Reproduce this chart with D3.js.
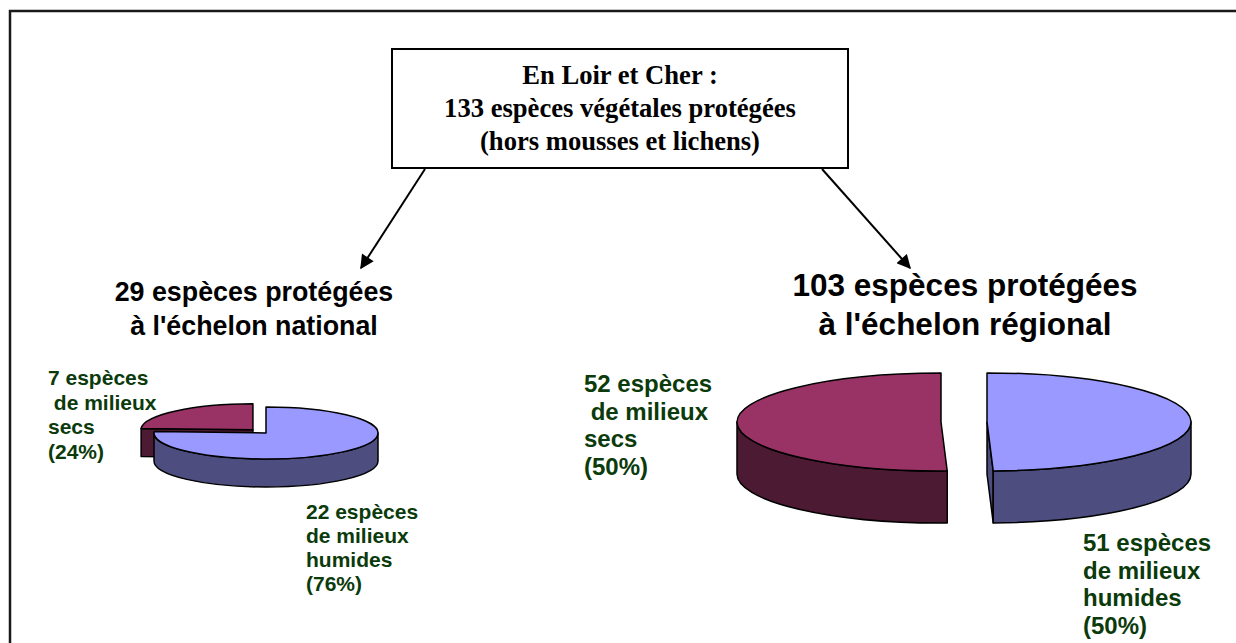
<!DOCTYPE html>
<html>
<head>
<meta charset="utf-8">
<script src="https://cdn.jsdelivr.net/npm/d3@7"></script>
<style>
  html, body { margin: 0; padding: 0; background: #fff; }
  svg { display: block; }
  text { white-space: pre; }
</style>
</head>
<body>
<svg id="chart" width="1236" height="643"></svg>
<script>
// ---------- DATA ----------
const categories = ["milieux humides", "milieux secs"];
const nationalValues = [22, 7];
const regionalValues = [51, 52];
const nationalPercents = ["76%", "24%"];
const regionalPercents = ["50%", "50%"];
const titleLines = ["En Loir et Cher :", "133 espèces végétales protégées", "(hors mousses et lichens)"];
const nationalHeading = ["29 espèces protégées", "à l'échelon national"];
const regionalHeading = ["103 espèces protégées", "à l'échelon régional"];
const nationalLabels = [
  ["22 espèces", "de milieux", "humides", "(76%)"],
  ["7 espèces", " de milieux", "secs", "(24%)"]
];
const regionalLabels = [
  ["51 espèces", "de milieux", "humides", "(50%)"],
  ["52 espèces", " de milieux", "secs", "(50%)"]
];

// ---------- STYLE ----------
const topColors = ["#9999FF", "#993366"];
const sideColors = ["#4D4D80", "#4D1A33"];
const labelColor = "#0B3A0B";

const svg = d3.select("#chart");

// outer frame
svg.append("path")
  .attr("d", "M10,650 L10,11 L1245,11")
  .attr("fill", "none").attr("stroke", "#1a1a1a").attr("stroke-width", 2.5);

// title box
svg.append("rect").attr("x", 392).attr("y", 49).attr("width", 456).attr("height", 119)
  .attr("fill", "#fff").attr("stroke", "#000").attr("stroke-width", 2);
svg.selectAll("text.title").data(titleLines).join("text")
  .attr("class", "title")
  .attr("x", 620).attr("y", (d, i) => 84 + i * 33)
  .attr("text-anchor", "middle")
  .attr("font-family", "'Liberation Serif', 'Times New Roman', serif")
  .attr("font-weight", "bold").attr("font-size", 26.6)
  .attr("fill", "#000").text(d => d);

// arrows
const defs = svg.append("defs");
defs.append("marker").attr("id", "arrow").attr("viewBox", "0 0 10 10")
  .attr("refX", 9).attr("refY", 5).attr("markerWidth", 7.5).attr("markerHeight", 7)
  .attr("markerUnits", "strokeWidth").attr("orient", "auto")
  .append("path").attr("d", "M0,0 L10,5 L0,10 Z").attr("fill", "#000");
const arrows = [[425, 169, 361, 268], [822, 169, 910, 268]];
svg.selectAll("line.arrow").data(arrows).join("line")
  .attr("class", "arrow")
  .attr("x1", d => d[0]).attr("y1", d => d[1]).attr("x2", d => d[2]).attr("y2", d => d[3])
  .attr("stroke", "#000").attr("stroke-width", 2).attr("marker-end", "url(#arrow)");

// headings
function heading(lines, cx, y0, dy, size) {
  svg.append("g").selectAll("text").data(lines).join("text")
    .attr("x", cx).attr("y", (d, i) => y0 + i * dy)
    .attr("text-anchor", "middle")
    .attr("font-family", "'Liberation Sans', Arial, sans-serif")
    .attr("font-weight", "bold").attr("font-size", size)
    .attr("fill", "#000").text(d => d);
}
heading(nationalHeading, 254, 301, 34, 26.8);
heading(regionalHeading, 965, 296, 39, 31.5);

// labels
function label(lines, x, y0, dy, size) {
  svg.append("g").selectAll("text").data(lines).join("text")
    .attr("x", x).attr("y", (d, i) => y0 + i * dy)
    .attr("font-family", "'Liberation Sans', Arial, sans-serif")
    .attr("font-weight", "bold").attr("font-size", size)
    .attr("fill", labelColor).text(d => d);
}
label(nationalLabels[1], 48, 385, 24.5, 21);
label(nationalLabels[0], 306, 519, 24, 21);
label(regionalLabels[1], 584, 392, 27.5, 24);
label(regionalLabels[0], 1083, 551, 27.5, 24);

// ---------- 3D PIE ----------
function pie3d(values, opts) {
  const arcs = d3.pie().sort(null).value(d => d).startAngle(0).endAngle(2 * Math.PI)(values);
  const g = svg.append("g");
  const { cx, cy, rx, ry, depth, explode } = opts;
  // draw back slices first (by bisector depth)
  const order = arcs.map((a, i) => i).sort((i, j) => {
    const bi = -Math.cos((arcs[i].startAngle + arcs[i].endAngle) / 2);
    const bj = -Math.cos((arcs[j].startAngle + arcs[j].endAngle) / 2);
    return bi - bj;
  });
  order.forEach(i => {
    const a = arcs[i];
    const a0 = a.startAngle, a1 = a.endAngle;
    const mid = (a0 + a1) / 2;
    const ex = explode[i] || 0;
    const ox = cx + ex * Math.sin(mid);
    const oy = cy - ex * (ry / rx) * Math.cos(mid);
    const P = (ang, dy = 0) => [ox + rx * Math.sin(ang), oy - ry * Math.cos(ang) + dy];
    const sg = g.append("g");
    const stroke = s => s.attr("stroke", "#000").attr("stroke-width", 1.5).attr("stroke-linejoin", "round");
    // radial faces
    if (Math.sin(a0) < -1e-6) {
      const p = P(a0), q = P(a0, depth);
      sg.append("path").attr("d", `M${ox},${oy} L${p} L${q} L${ox},${oy + depth} Z`)
        .attr("fill", sideColors[i]).call(stroke);
    }
    if (Math.sin(a1) > 1e-6) {
      const p = P(a1), q = P(a1, depth);
      sg.append("path").attr("d", `M${ox},${oy} L${p} L${q} L${ox},${oy + depth} Z`)
        .attr("fill", sideColors[i]).call(stroke);
    }
    // outer wall
    const s = Math.max(a0, Math.PI / 2), e = Math.min(a1, 3 * Math.PI / 2);
    if (s < e) {
      const lg = (e - s) > Math.PI ? 1 : 0;
      sg.append("path").attr("d",
        `M${P(s)} A${rx},${ry} 0 ${lg} 1 ${P(e)} L${P(e, depth)} A${rx},${ry} 0 ${lg} 0 ${P(s, depth)} Z`)
        .attr("fill", sideColors[i]).call(stroke);
    }
    // top face
    const lg = (a1 - a0) > Math.PI ? 1 : 0;
    sg.append("path").attr("d", `M${ox},${oy} L${P(a0)} A${rx},${ry} 0 ${lg} 1 ${P(a1)} Z`)
      .attr("fill", topColors[i]).call(stroke);
  });
}

pie3d(nationalValues, { cx: 266, cy: 433, rx: 112, ry: 26, depth: 28, explode: [0, 19] });
pie3d(regionalValues, { cx: 964, cy: 422, rx: 204, ry: 49, depth: 52, explode: [23, 23] });
</script>
</body>
</html>
